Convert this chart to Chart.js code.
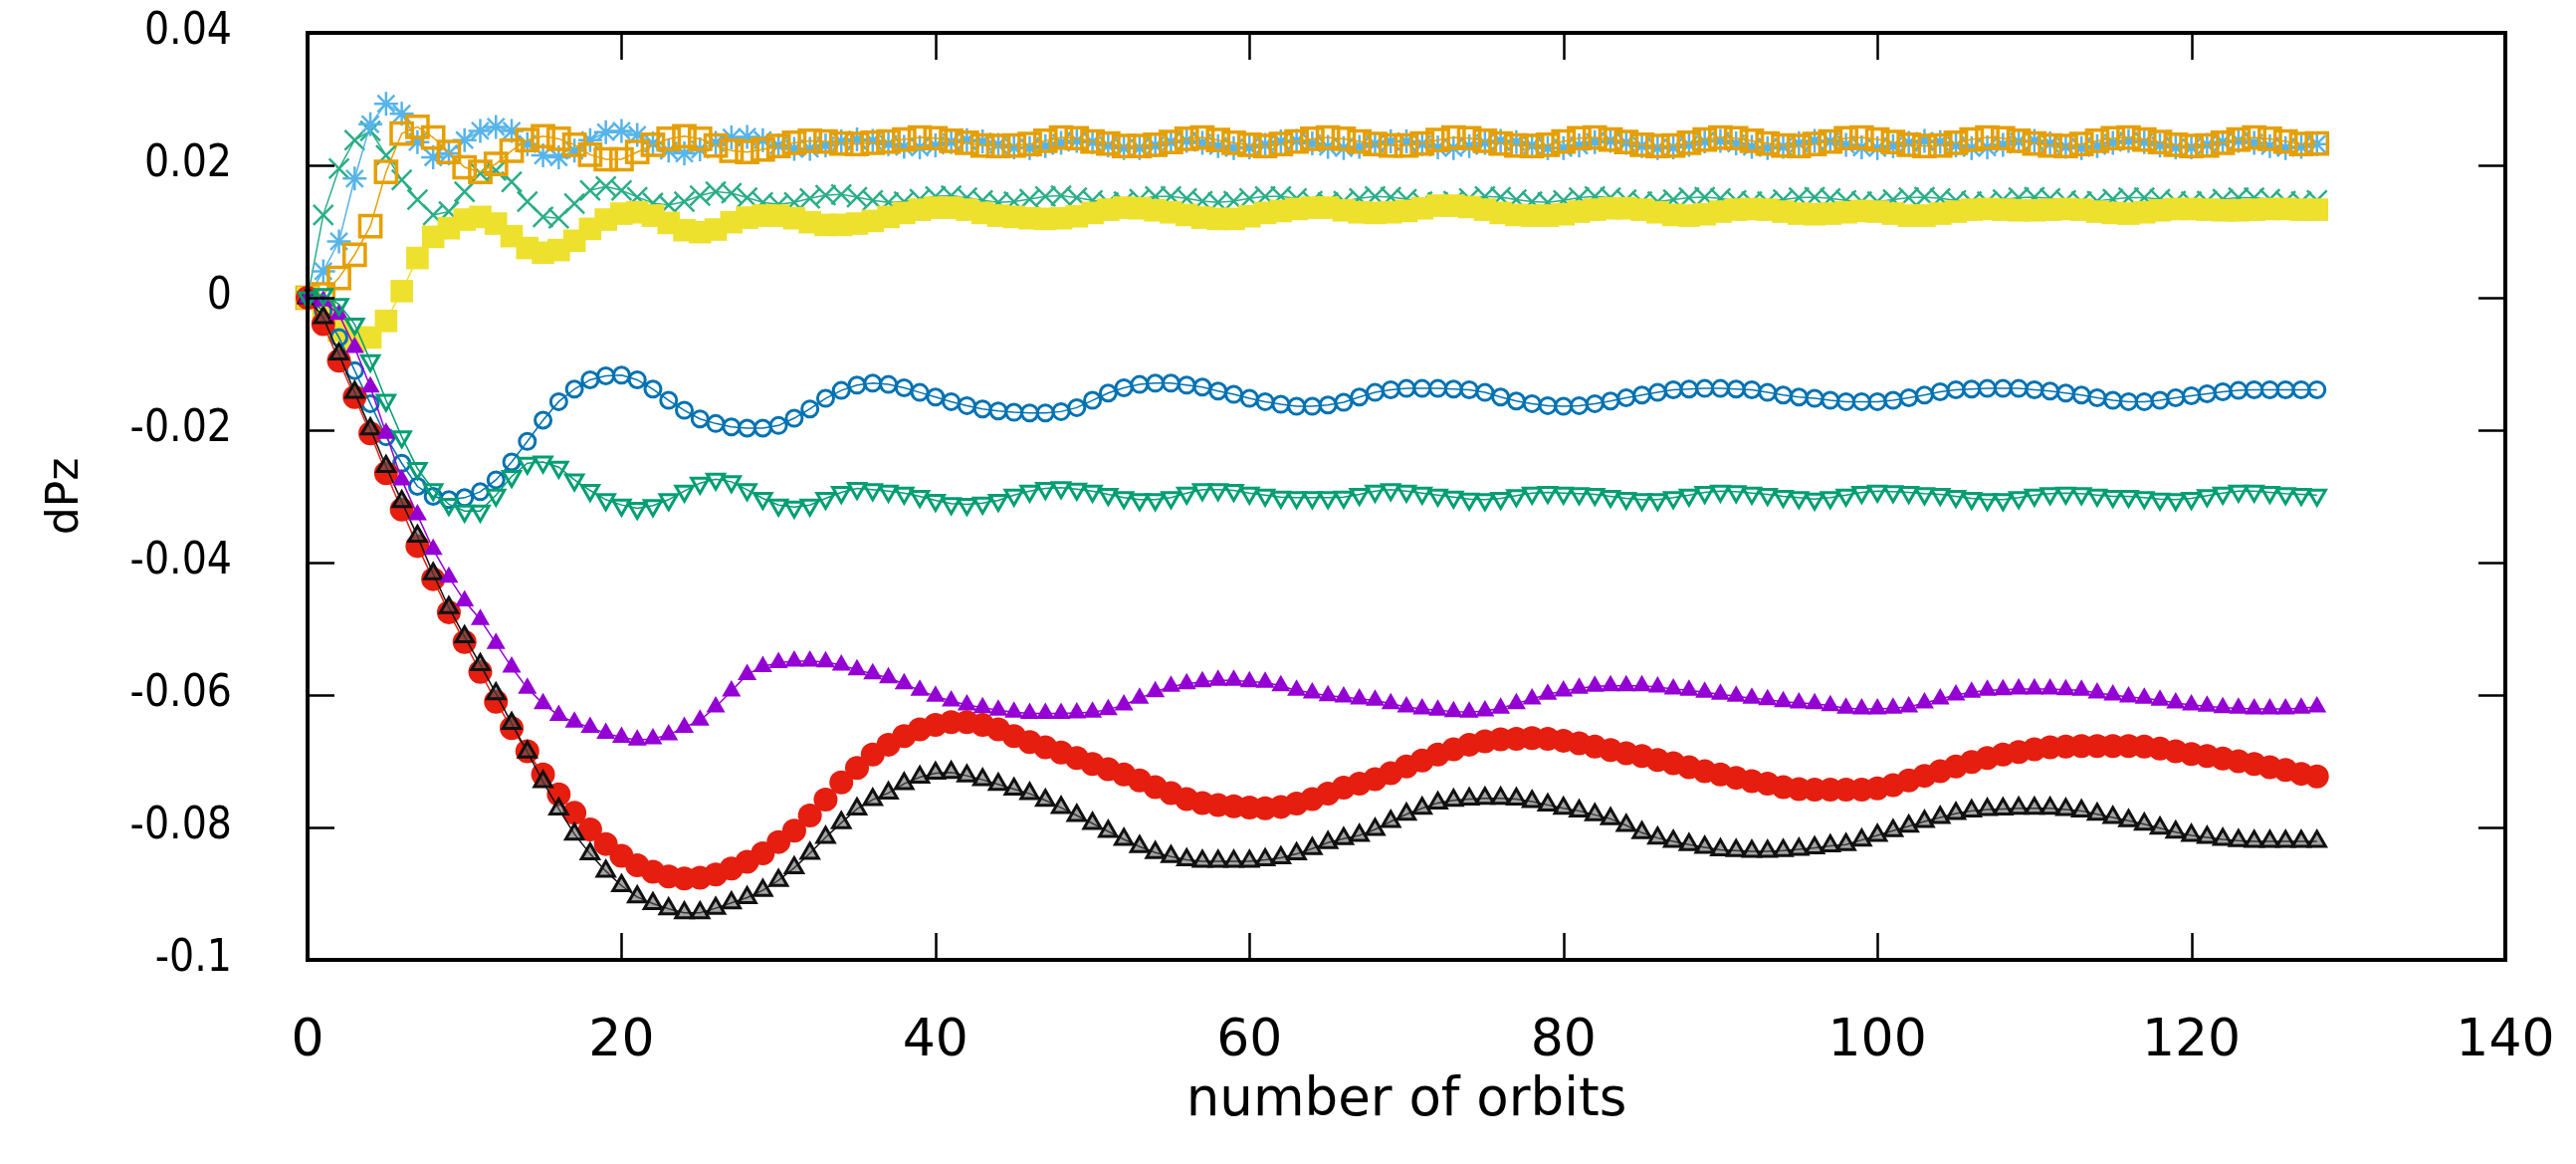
<!DOCTYPE html>
<html>
<head>
<meta charset="utf-8">
<script src="https://cdn.jsdelivr.net/npm/chart.js@4/dist/chart.umd.min.js"></script>
<style>
  html, body { margin: 0; padding: 0; background: #fff; }
  #c { display: block; }
</style>
</head>
<body>
<canvas id="c" width="2588" height="1169"></canvas>
<script>
// ---- data (dPz vs number of orbits, one point per orbit) ----
const orbits = Array.from({length: 129}, (_, i) => i);

const greenCross = [
  0, 0.0125, 0.0195, 0.0238, 0.0252, 0.0215, 0.0178, 0.0148, 0.0125, 0.013,
  0.016, 0.0188, 0.0192, 0.0175, 0.0145, 0.0122, 0.012, 0.0142, 0.0162, 0.0168,
  0.0162, 0.0152, 0.0143, 0.014, 0.0145, 0.0154, 0.016, 0.0158, 0.0151, 0.0144,
  0.0141, 0.0144, 0.015, 0.0155, 0.0156, 0.0152, 0.0147, 0.0144, 0.0145, 0.0149,
  0.0153, 0.0154, 0.0151, 0.0147, 0.0144, 0.0145, 0.0149, 0.0153, 0.0154, 0.0151,
  0.0147, 0.0144, 0.0145, 0.0149, 0.0153, 0.0153, 0.015, 0.0146, 0.0144, 0.0146,
  0.015, 0.0153, 0.0153, 0.015, 0.0146, 0.0144, 0.0146, 0.015, 0.0153, 0.0152,
  0.0149, 0.0145, 0.0144, 0.0146, 0.015, 0.0153, 0.0152, 0.0148, 0.0145, 0.0144,
  0.0147, 0.0151, 0.0153, 0.0151, 0.0148, 0.0145, 0.0145, 0.0148, 0.0151, 0.0152,
  0.015, 0.0147, 0.0145, 0.0145, 0.0148, 0.0151, 0.0152, 0.015, 0.0147, 0.0145,
  0.0145, 0.0148, 0.0151, 0.0152, 0.015, 0.0147, 0.0145, 0.0145, 0.0148, 0.0151,
  0.0152, 0.015, 0.0147, 0.0145, 0.0146, 0.0149, 0.0151, 0.0151, 0.0149, 0.0146,
  0.0145, 0.0146, 0.0149, 0.0151, 0.0151, 0.0149, 0.0146, 0.0145, 0.0147
];

const skyStar = [
  0, 0.004, 0.0085, 0.018, 0.0262, 0.0293, 0.0278, 0.0235, 0.0212, 0.0218,
  0.0238, 0.0252, 0.0258, 0.0252, 0.0232, 0.0215, 0.0212, 0.0222, 0.0238, 0.025,
  0.0252, 0.0246, 0.0233, 0.0222, 0.0218, 0.0224, 0.0234, 0.0242, 0.0243, 0.0238,
  0.023, 0.0225, 0.0225, 0.023, 0.0236, 0.0239, 0.0237, 0.0232, 0.0228, 0.0227,
  0.023, 0.0235, 0.0238, 0.0236, 0.0231, 0.0227, 0.0226, 0.0229, 0.0234, 0.0237,
  0.0235, 0.023, 0.0226, 0.0226, 0.023, 0.0235, 0.0237, 0.0234, 0.0229, 0.0226,
  0.0227, 0.0231, 0.0236, 0.0237, 0.0233, 0.0228, 0.0226, 0.0228, 0.0232, 0.0236,
  0.0236, 0.0232, 0.0227, 0.0226, 0.0229, 0.0234, 0.0237, 0.0235, 0.023, 0.0226,
  0.0226, 0.023, 0.0235, 0.0237, 0.0234, 0.0229, 0.0226, 0.0227, 0.0231, 0.0236,
  0.0237, 0.0233, 0.0228, 0.0226, 0.0228, 0.0233, 0.0237, 0.0236, 0.0231, 0.0227,
  0.0226, 0.0229, 0.0234, 0.0237, 0.0235, 0.023, 0.0226, 0.0227, 0.0231, 0.0236,
  0.0237, 0.0233, 0.0228, 0.0226, 0.0229, 0.0234, 0.0237, 0.0235, 0.023, 0.0227,
  0.0227, 0.0231, 0.0235, 0.0237, 0.0234, 0.0229, 0.0226, 0.0228, 0.0232
];

const orangeSquare = [
  0, 0.0005, 0.003, 0.0065, 0.0108, 0.019, 0.0248, 0.0258, 0.0242, 0.022,
  0.0197, 0.019, 0.0202, 0.0222, 0.0238, 0.0244, 0.024, 0.0231, 0.0216, 0.0209,
  0.0209, 0.022, 0.0231, 0.024, 0.0244, 0.024, 0.023, 0.0222, 0.022, 0.0224,
  0.0229, 0.0234, 0.0237, 0.0236, 0.0233, 0.0232, 0.0234, 0.0236, 0.0239, 0.0242,
  0.0241, 0.0237, 0.0234, 0.023, 0.0229, 0.023, 0.0232, 0.0237, 0.0242, 0.0241,
  0.0236, 0.0233, 0.0229, 0.0229, 0.0231, 0.0235, 0.024, 0.0242, 0.0238, 0.0234,
  0.0231, 0.0229, 0.0232, 0.0236, 0.024, 0.0242, 0.024, 0.0236, 0.0232, 0.023,
  0.023, 0.0233, 0.0238, 0.0242, 0.0241, 0.0237, 0.0233, 0.023, 0.0229, 0.0231,
  0.0236, 0.0241, 0.0242, 0.0239, 0.0235, 0.0231, 0.0229, 0.023, 0.0234, 0.0239,
  0.0242, 0.0241, 0.0237, 0.0233, 0.023, 0.0229, 0.0232, 0.0236, 0.0241, 0.0242,
  0.0239, 0.0235, 0.0231, 0.0229, 0.023, 0.0234, 0.0239, 0.0242, 0.0241, 0.0237,
  0.0233, 0.023, 0.0229, 0.0232, 0.0237, 0.0241, 0.0242, 0.0239, 0.0235, 0.0231,
  0.0229, 0.023, 0.0234, 0.0239, 0.0242, 0.024, 0.0236, 0.0232, 0.0233
];

const yellowSquare = [
  0, -0.002, -0.005, -0.0065, -0.006, -0.0035, 0.001, 0.006, 0.0092, 0.0105,
  0.0118, 0.0122, 0.0112, 0.0093, 0.0075, 0.0068, 0.0072, 0.0086, 0.0104, 0.0118,
  0.0127, 0.0129, 0.0124, 0.0113, 0.0102, 0.0099, 0.0103, 0.0114, 0.0121, 0.0124,
  0.0124, 0.012, 0.0114, 0.011, 0.011, 0.0112, 0.0116, 0.0122, 0.0128, 0.0133,
  0.0136, 0.0136, 0.0133, 0.0128, 0.0124, 0.0122, 0.012, 0.0119, 0.012, 0.0123,
  0.0128, 0.0133, 0.0136, 0.0135, 0.0132, 0.0129, 0.0125, 0.0121, 0.0119, 0.0119,
  0.0123, 0.0128, 0.0131, 0.0134, 0.0136, 0.0136, 0.0132, 0.0129, 0.0128, 0.0129,
  0.0131, 0.0135, 0.0139, 0.0139, 0.0137, 0.0133, 0.0128, 0.0125, 0.0124, 0.0124,
  0.0126, 0.013, 0.0133, 0.0135, 0.0135, 0.0133, 0.0129, 0.0125, 0.0124, 0.0126,
  0.013, 0.0133, 0.0134, 0.0133, 0.013, 0.0127, 0.0126, 0.0127, 0.0129, 0.0131,
  0.013, 0.0127, 0.0124, 0.0124, 0.0127, 0.013, 0.0133, 0.0134, 0.0133, 0.0132,
  0.0132, 0.0133, 0.0134, 0.0133, 0.013, 0.0128, 0.0127, 0.0129, 0.0132, 0.0134,
  0.0134, 0.0133, 0.0132, 0.0132, 0.0133, 0.0134, 0.0134, 0.0133, 0.0133
];

const blueCircle = [
  0, -0.002, -0.006, -0.011, -0.016, -0.021, -0.025, -0.0285, -0.03, -0.0305,
  -0.0302, -0.0293, -0.0275, -0.0248, -0.0217, -0.0185, -0.0157, -0.0138, -0.0124, -0.0118,
  -0.0117, -0.0124, -0.0138, -0.0155, -0.017, -0.0183, -0.019, -0.0195, -0.0197, -0.0197,
  -0.0193, -0.0182, -0.0168, -0.0152, -0.014, -0.0132, -0.0129, -0.0131, -0.0136, -0.0143,
  -0.015, -0.0157, -0.0163, -0.0168, -0.0171, -0.0173, -0.0174, -0.0174, -0.0172, -0.0166,
  -0.0155, -0.0144, -0.0136, -0.0131, -0.0129, -0.0129, -0.0132, -0.0135, -0.0141, -0.0146,
  -0.0152, -0.0157, -0.0161, -0.0164, -0.0164, -0.0162, -0.0158, -0.015, -0.0143, -0.0139,
  -0.0137, -0.0137, -0.0137, -0.0138, -0.0139, -0.0143, -0.015, -0.0156, -0.016, -0.0163,
  -0.0164, -0.0163, -0.016, -0.0156, -0.0151, -0.0147, -0.0143, -0.0139, -0.0138, -0.0137,
  -0.0137, -0.0138, -0.0139, -0.0143, -0.0147, -0.015, -0.0152, -0.0155, -0.0157, -0.0157,
  -0.0157, -0.0155, -0.0151, -0.0147, -0.0142, -0.0139, -0.0138, -0.0137, -0.0137, -0.0137,
  -0.0139, -0.0141, -0.0144, -0.0147, -0.0151, -0.0155, -0.0157, -0.0157, -0.0155, -0.0151,
  -0.0148, -0.0145, -0.0142, -0.014, -0.0139, -0.0139, -0.0139, -0.0139, -0.0139
];

const redCircle = [
  0, -0.004, -0.0095, -0.015, -0.0205, -0.0265, -0.032, -0.0375, -0.0425, -0.0475,
  -0.052, -0.0565, -0.061, -0.065, -0.0685, -0.072, -0.075, -0.0778, -0.0803, -0.0825,
  -0.0843, -0.0857, -0.0867, -0.0874, -0.0877, -0.0876, -0.0871, -0.0862, -0.0852, -0.0839,
  -0.0822, -0.0805, -0.0782, -0.0758, -0.0732, -0.071, -0.069, -0.0675, -0.0662, -0.0652,
  -0.0645, -0.0641, -0.0641, -0.0645, -0.0652, -0.0662, -0.0671, -0.0679, -0.0687, -0.0695,
  -0.0704, -0.0712, -0.072, -0.0729, -0.0739, -0.0748, -0.0757, -0.0763, -0.0766, -0.0768,
  -0.077, -0.0771, -0.0769, -0.0764, -0.0757, -0.0749, -0.074, -0.0734, -0.0727, -0.0718,
  -0.0708, -0.0699, -0.069, -0.0682, -0.0675, -0.067, -0.0667, -0.0666, -0.0665, -0.0666,
  -0.0669, -0.0673, -0.0678, -0.0683, -0.0688, -0.0692, -0.0698, -0.0703, -0.0709, -0.0715,
  -0.072, -0.0725, -0.073, -0.0734, -0.0739, -0.0742, -0.0743, -0.0743, -0.0743, -0.0743,
  -0.0741, -0.0736, -0.0729, -0.0722, -0.0715, -0.0708, -0.0701, -0.0695, -0.069, -0.0686,
  -0.0682, -0.0679, -0.0678, -0.0677, -0.0677, -0.0677, -0.0677, -0.0678, -0.0681, -0.0685,
  -0.0689, -0.0692, -0.0696, -0.07, -0.0704, -0.0709, -0.0713, -0.0719, -0.0723
];

const blackTriangle = [
  0, -0.003, -0.0085, -0.0143, -0.0198, -0.0255, -0.0308, -0.036, -0.0417, -0.0468,
  -0.0512, -0.0554, -0.0598, -0.0643, -0.0686, -0.0731, -0.0772, -0.081, -0.084, -0.0866,
  -0.0888, -0.0905, -0.0915, -0.0923, -0.0929, -0.0929, -0.0922, -0.0914, -0.0906, -0.0895,
  -0.088, -0.0861, -0.0839, -0.0815, -0.0793, -0.0772, -0.0758, -0.0748, -0.0734, -0.0724,
  -0.0718, -0.0717, -0.0722, -0.0728, -0.0735, -0.0742, -0.0749, -0.0759, -0.077, -0.0782,
  -0.0794, -0.0806, -0.0818, -0.0829, -0.0838, -0.0844, -0.0849, -0.0851, -0.0851, -0.0851,
  -0.0851, -0.0849, -0.0846, -0.084, -0.0832, -0.0823, -0.0817, -0.0812, -0.0803, -0.0791,
  -0.078, -0.0771, -0.0763, -0.0759, -0.0757, -0.0756, -0.0756, -0.0757, -0.0761, -0.0766,
  -0.0771, -0.0775, -0.0781, -0.0787, -0.0797, -0.0808, -0.0816, -0.0821, -0.0826, -0.083,
  -0.0834, -0.0835, -0.0836, -0.0836, -0.0835, -0.0833, -0.0831, -0.0828, -0.0826, -0.0819,
  -0.0812, -0.0805, -0.0798, -0.0791, -0.0785, -0.0779, -0.0775, -0.0773, -0.0772, -0.0771,
  -0.0771, -0.0771, -0.0773, -0.0775, -0.078, -0.0785, -0.079, -0.0795, -0.0801, -0.0807,
  -0.0812, -0.0815, -0.0818, -0.082, -0.0821, -0.0821, -0.0821, -0.0821, -0.0821
];

const purpleTriangle = [
  0, -0.0005, -0.0025, -0.0075, -0.0135, -0.0205, -0.0275, -0.0328, -0.038, -0.0422,
  -0.0458, -0.0486, -0.0522, -0.0558, -0.059, -0.0613, -0.0631, -0.0641, -0.0649, -0.0658,
  -0.0664, -0.0668, -0.0666, -0.066, -0.0649, -0.0638, -0.0618, -0.0594, -0.0569, -0.0557,
  -0.0551, -0.0549, -0.0549, -0.055, -0.0555, -0.0562, -0.0568, -0.0574, -0.0583, -0.0593,
  -0.0602, -0.0609, -0.0615, -0.0619, -0.0623, -0.0626, -0.0628, -0.0628, -0.0628, -0.0627,
  -0.0626, -0.0622, -0.0615, -0.0605, -0.0595, -0.0587, -0.0583, -0.058, -0.0578, -0.0578,
  -0.058, -0.0581, -0.0586, -0.0593, -0.0597, -0.0601, -0.0603, -0.0606, -0.0608, -0.0613,
  -0.0618, -0.0621, -0.0623, -0.0625, -0.0626, -0.0624, -0.062, -0.0613, -0.0606, -0.0599,
  -0.0594, -0.059, -0.0587, -0.0586, -0.0586, -0.0586, -0.0588, -0.0591, -0.0593, -0.0596,
  -0.0599, -0.0602, -0.0605, -0.0607, -0.061, -0.0612, -0.0613, -0.0616, -0.062, -0.0621,
  -0.0621, -0.062, -0.0618, -0.0612, -0.0606, -0.06, -0.0596, -0.0593, -0.0592, -0.0591,
  -0.0591, -0.0591, -0.0592, -0.0593, -0.0597, -0.06, -0.0603, -0.0605, -0.0608, -0.0612,
  -0.0615, -0.0617, -0.0619, -0.062, -0.0621, -0.0621, -0.0621, -0.062, -0.0618
];

const tealTriangleDown = [
  0, 0.0005, -0.001, -0.004, -0.0095, -0.0155, -0.021, -0.0258, -0.029, -0.0312,
  -0.0322, -0.0322, -0.0298, -0.027, -0.025, -0.0248, -0.0256, -0.0275, -0.0291, -0.0305,
  -0.0313, -0.0318, -0.0314, -0.0305, -0.0292, -0.028, -0.0274, -0.0278, -0.029, -0.0303,
  -0.0313, -0.0316, -0.0313, -0.0303, -0.0294, -0.0288, -0.029, -0.0292, -0.0295, -0.03,
  -0.0306, -0.0311, -0.0312, -0.031, -0.0306, -0.0298, -0.0292, -0.0288, -0.0287, -0.0289,
  -0.0292, -0.0297, -0.0302, -0.0305, -0.0305, -0.0302, -0.0295, -0.029, -0.029, -0.0291,
  -0.0295, -0.0298, -0.0301, -0.0302, -0.0302, -0.0302, -0.0301, -0.0297, -0.0292, -0.029,
  -0.0292, -0.0295, -0.0298, -0.0301, -0.0304, -0.0305, -0.0303, -0.0299, -0.0295, -0.0294,
  -0.0295, -0.0296, -0.0297, -0.03, -0.0303, -0.0305, -0.0305, -0.0302, -0.0298, -0.0294,
  -0.0292, -0.0293, -0.0295, -0.0297, -0.03, -0.0302, -0.0304, -0.0302, -0.0298, -0.0294,
  -0.0292, -0.0293, -0.0294, -0.0296, -0.0297, -0.03, -0.0303, -0.0305, -0.0305, -0.0302,
  -0.0298, -0.0296, -0.0295, -0.0296, -0.0298, -0.03, -0.03, -0.0302, -0.0304, -0.0305,
  -0.0303, -0.0299, -0.0295, -0.0292, -0.0292, -0.0294, -0.0296, -0.0297, -0.0298
];

const xTicks = [0, 20, 40, 60, 80, 100, 120, 140];
const yTicks = [-0.1, -0.08, -0.06, -0.04, -0.02, 0, 0.02, 0.04];
const xTitle = 'number of orbits';
const yTitle = 'dPz';

// ---- chart ----
const FONT = "'DejaVu Sans', 'Liberation Sans', sans-serif";
const FONT_NARROW = "'DejaVu Sans Condensed', 'DejaVu Sans', sans-serif";
const toXY = arr => arr.map((v, i) => ({x: orbits[i], y: v}));

function series(data, color, style, opts, drawIndex) {
  return Object.assign({
    data: toXY(data),
    borderColor: color,
    backgroundColor: color,
    pointBorderColor: color,
    pointBackgroundColor: color,
    borderWidth: 1.5,
    pointStyle: style,
    pointBorderWidth: 2,
    order: 20 - drawIndex,
    tension: 0,
    clip: false
  }, opts);
}

const datasets = [
  series(greenCross, '#2aae88', 'crossRot', {pointRadius: 14, pointBorderWidth: 2.5}, 2),
  series(skyStar, '#56B4E9', 'star', {pointRadius: 12, pointBorderWidth: 2.5}, 3),
  series(orangeSquare, '#E69F00', 'rect', {pointRadius: 15, pointBackgroundColor: 'rgba(0,0,0,0)', pointBorderWidth: 3.5}, 4),
  series(yellowSquare, '#EDE12E', 'rect', {pointRadius: 16, pointBorderWidth: 0}, 5),
  series(blueCircle, '#0072B2', 'circle', {pointRadius: 8, pointBackgroundColor: 'rgba(0,0,0,0)', pointBorderWidth: 3}, 6),
  series(redCircle, '#E51E10', 'circle', {pointRadius: 12, pointBorderWidth: 0}, 7),
  series(blackTriangle, '#111111', 'triangle', {pointRadius: 10, pointBackgroundColor: 'rgba(90,90,90,0.55)', pointBorderWidth: 3}, 8),
  series(purpleTriangle, '#9400D3', 'triangle', {pointRadius: 11, pointBorderWidth: 0}, 9),
  series(tealTriangleDown, '#009E73', 'triangle', {pointRadius: 10, pointRotation: 180, pointBackgroundColor: 'rgba(0,0,0,0)', pointBorderWidth: 3}, 10)
];

const framePlugin = {
  id: 'gnuframe',
  afterDatasetsDraw(chart) {
    const {ctx, chartArea: a, scales: {x, y}} = chart;
    ctx.save();
    ctx.strokeStyle = '#000';
    ctx.lineWidth = 2.5;
    ctx.beginPath();
    const L = 27;
    xTicks.forEach(v => {
      const px = Math.round(x.getPixelForValue(v)) + 0.5;
      ctx.moveTo(px, a.bottom); ctx.lineTo(px, a.bottom - L);
      ctx.moveTo(px, a.top); ctx.lineTo(px, a.top + L);
    });
    yTicks.forEach(v => {
      const py = Math.round(y.getPixelForValue(v)) + 0.5;
      ctx.moveTo(a.left, py); ctx.lineTo(a.left + L, py);
      ctx.moveTo(a.right, py); ctx.lineTo(a.right - L, py);
    });
    ctx.stroke();
    ctx.lineWidth = 4;
    ctx.strokeRect(a.left, a.top, a.right - a.left, a.bottom - a.top);
    ctx.restore();
  }
};

function noPad(s) { s.paddingLeft = 0; s.paddingRight = 0; s.paddingTop = 0; s.paddingBottom = 0; }

Chart.defaults.font.family = FONT;
Chart.defaults.color = '#000';

new Chart(document.getElementById('c'), {
  type: 'line',
  data: {datasets},
  options: {
    responsive: false,
    animation: false,
    devicePixelRatio: 1,
    layout: {padding: {left: 0, right: 71, top: 33, bottom: 0}},
    plugins: {legend: {display: false}, tooltip: {enabled: false}, title: {display: false}},
    scales: {
      x: {
        type: 'linear',
        min: 0, max: 140,
        afterBuildTicks: s => { s.ticks = xTicks.map(v => ({value: v})); },
        ticks: {font: {size: 52}, padding: 51, maxRotation: 0, autoSkip: false,
                callback: v => String(v)},
        grid: {display: false, drawTicks: false},
        border: {display: false},
        title: {display: true, text: xTitle, font: {size: 53}, padding: {top: 0, bottom: 31}},
        afterFit: s => { s.height = 205; noPad(s); }
      },
      y: {
        type: 'linear',
        min: -0.1, max: 0.04,
        afterBuildTicks: s => { s.ticks = yTicks.map(v => ({value: v})); },
        ticks: {font: {size: 44, family: FONT_NARROW}, padding: 76, autoSkip: false,
                callback: v => String(parseFloat(Number(v).toFixed(2)))},
        grid: {display: false, drawTicks: false},
        border: {display: false},
        title: {display: true, text: yTitle, font: {size: 44}, padding: {top: 40, bottom: 0}},
        afterFit: s => { s.width = 309; noPad(s); }
      }
    }
  },
  plugins: [framePlugin]
});
</script>
</body>
</html>
